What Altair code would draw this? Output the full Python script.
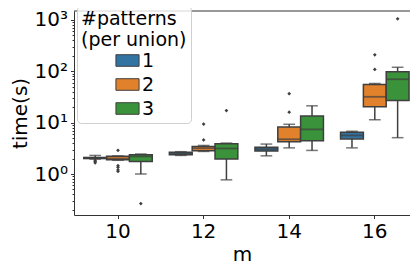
import altair as alt
import pandas as pd

# categories
m_values = ["10", "12", "14", "16"]
k_values = ["1", "2", "3"]

# box statistics per (m, k) in order m × k
box_m   = ["10", "10", "10", "12", "12", "12", "14", "14", "14", "16", "16", "16"]
box_k   = ["1", "2", "3"] * 4
w_lo    = [1.95, 1.85, 1.00, 2.30, 2.75, 0.77, 2.26, 3.23, 2.88, 3.23, 11.4, 5.1]
q1      = [2.00, 1.90, 1.75, 2.38, 2.85, 1.96, 2.80, 4.25, 4.43, 4.83, 20.4, 26.9]
median  = [2.05, 2.00, 2.20, 2.52, 3.18, 3.14, 3.05, 4.75, 7.40, 5.64, 31.9, 70.0]
q3      = [2.10, 2.22, 2.38, 2.65, 3.45, 3.90, 3.32, 8.20, 13.5, 6.52, 55.7, 98.6]
w_hi    = [2.30, 2.25, 2.45, 2.72, 3.60, 4.00, 3.83, 9.30, 21.3, 6.80, 58.0, 120.0]

# outliers
out_m = ["10", "10", "10", "10", "10", "10", "10", "10", "10", "12", "12", "12", "14", "14", "16", "16", "16"]
out_k = ["1", "1", "1", "2", "2", "2", "2", "2", "3", "2", "2", "3", "2", "2", "2", "2", "3"]
out_v = [1.85, 1.75, 1.65, 2.90, 1.45, 1.35, 1.20, 1.12, 0.265, 4.6, 9.4, 17.2, 16.0, 36.7, 109.0, 210.0, 1057.0]

# axis ticks
major_ticks = [1, 10, 100, 1000]
minor_ticks = [0.2, 0.3, 0.4, 0.5, 0.6, 0.7, 0.8, 0.9,
               2, 3, 4, 5, 6, 7, 8, 9,
               20, 30, 40, 50, 60, 70, 80, 90,
               200, 300, 400, 500, 600, 700, 800, 900]

colors = ["#3274a1", "#e1812c", "#3a923a"]
edge = "#3f3f3f"

boxes = pd.DataFrame({"m": box_m, "k": box_k, "lo": w_lo, "q1": q1,
                      "med": median, "q3": q3, "hi": w_hi})
outliers = pd.DataFrame({"m": out_m, "k": out_k, "v": out_v})

W, H = 336, 204
step = 85.6
first_center = 44.0
band_total = W - step * 3.8
pad_outer = band_total / (2 * step)
align = (first_center - 0.4 * step) / band_total

yscale = alt.Scale(type="log", domain=[0.159, 1497], nice=False)
xscale = alt.Scale(domain=m_values, paddingInner=0.2, paddingOuter=pad_outer, align=align)
xoff = alt.XOffset("k:N", scale=alt.Scale(domain=k_values, paddingInner=0, paddingOuter=0))

label_expr = ("datum.value == 1 ? '10⁰' : datum.value == 10 ? '10¹' : "
              "datum.value == 100 ? '10²' : datum.value == 1000 ? '10³' : ''")

x_enc = alt.X("m:N", scale=xscale, title="m",
              axis=alt.Axis(labelAngle=0, tickSize=3.5, labelPadding=2.5,
                            titlePadding=3, domainColor="#333", tickColor="#333"))

base = alt.Chart(boxes)

whisk = base.mark_rule(color=edge, strokeWidth=1.5).encode(
    x=x_enc, xOffset=xoff,
    y=alt.Y("lo:Q", scale=yscale, title="time(s)",
            axis=alt.Axis(values=major_ticks + minor_ticks, labelExpr=label_expr,
                          labelOverlap=False, labelPadding=3, titlePadding=4,
                          domainColor="#333", tickColor="#333", grid=False,
                          tickSize={"condition": {"test": "indexof([1,10,100,1000], datum.value) >= 0",
                                                  "value": 3.5}, "value": 2})),
    y2="hi:Q")

caps_lo = base.mark_tick(color=edge, size=11.7, thickness=1.5).encode(
    x="m:N", xOffset=xoff, y="lo:Q")
caps_hi = base.mark_tick(color=edge, size=11.7, thickness=1.5).encode(
    x="m:N", xOffset=xoff, y="hi:Q")

bars = base.mark_bar(stroke=edge, strokeWidth=1.5).encode(
    x="m:N", xOffset=xoff, y="q1:Q", y2="q3:Q",
    color=alt.Color("k:N", scale=alt.Scale(domain=k_values, range=colors),
                    legend=alt.Legend(title=["#patterns", "(per union)"],
                                      orient="none", legendX=3, legendY=-5,
                                      padding=4, titleFontSize=19, titleFontWeight="normal",
                                      titleColor="black", titleLineHeight=21,
                                      titlePadding=1, labelFontSize=19, labelColor="black",
                                      symbolType="M-2,-1L2,-1L2,1L-2,1Z",
                                      symbolSize=134, symbolOffset=37,
                                      symbolStrokeColor=edge, symbolStrokeWidth=1,
                                      symbolOpacity=1, rowPadding=4, labelOffset=5,
                                      fillColor="rgba(255,255,255,0.8)", strokeColor="#d0d0d0",
                                      cornerRadius=4)))

meds = base.mark_tick(color=edge, size=23.3, thickness=1.8).encode(
    x="m:N", xOffset=xoff, y="med:Q")

fliers = alt.Chart(outliers).mark_point(shape="diamond", filled=True, size=14,
                                        color=edge, opacity=1).encode(
    x="m:N", xOffset=alt.XOffset("k:N"), y="v:Q")

top = alt.Chart(pd.DataFrame({"a": [0]})).mark_rule(color="#333", strokeWidth=1).encode(
    x=alt.value(0), x2=alt.value(W), y=alt.value(0))

chart = alt.layer(whisk, caps_lo, caps_hi, bars, meds, fliers, top).properties(
    width=W, height=H,
    autosize=alt.AutoSizeParams(type="none"),
    padding={"left": 66, "top": 3, "right": 0, "bottom": 51},
).configure(font="DejaVu Sans").configure_axis(
    labelFontSize=20, titleFontSize=20, labelColor="black", titleColor="black",
    titleFontWeight="normal", tickWidth=1, domainWidth=1, grid=False
).configure_view(stroke=None)

chart.save("out.html", embed_options={"renderer": "svg", "actions": False})
